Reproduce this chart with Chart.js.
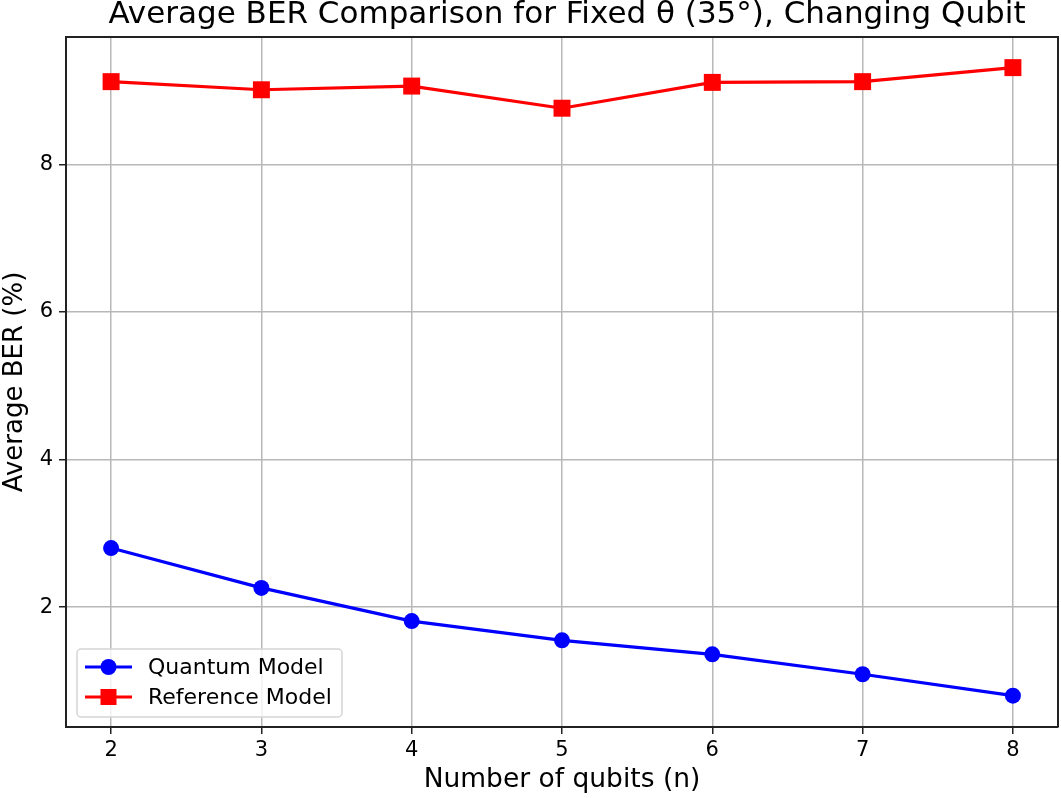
<!DOCTYPE html>
<html>
<head>
<meta charset="utf-8">
<script src="https://cdn.jsdelivr.net/npm/chart.js@4"></script>
<style>
  body { margin: 0; background: #fff; }
  #wrap { width: 1061px; height: 798px; }
</style>
</head>
<body>
<div id="wrap"><canvas id="berChart"></canvas></div>
<script>
// data
const qubits = [2, 3, 4, 5, 6, 7, 8];
const quantumBer = [2.80, 2.26, 1.81, 1.55, 1.36, 1.09, 0.80];
const referenceBer = [9.12, 9.01, 9.06, 8.76, 9.11, 9.12, 9.31];
const xTicks = [2, 3, 4, 5, 6, 7, 8];
const yTicks = [2, 4, 6, 8];

const FONT = "'DejaVu Sans', sans-serif";

function toPoints(xs, ys) {
    return xs.map((x, i) => ({ x: x, y: ys[i] }));
}

// title, top/right frame and the legend box inside the plot
const framePlugin = {
    id: "frame",
    afterDraw(chart) {
        const ctx = chart.ctx;
        const a = chart.chartArea;
        ctx.save();
        ctx.strokeStyle = "#222";
        ctx.lineWidth = 2;
        ctx.beginPath();
        ctx.moveTo(a.left, a.top);
        ctx.lineTo(a.right, a.top);
        ctx.lineTo(a.right, a.bottom);
        ctx.stroke();

        ctx.fillStyle = "#000";
        ctx.font = "31px " + FONT;
        ctx.textAlign = "center";
        ctx.textBaseline = "middle";
        ctx.fillText("Average BER Comparison for Fixed θ (35°), Changing Qubit", 567, 15);

        // legend
        const bx = 77, by = 649, bw = 265, bh = 68;
        ctx.fillStyle = "rgba(255,255,255,0.8)";
        ctx.strokeStyle = "#d5d5d5";
        ctx.lineWidth = 1.5;
        ctx.beginPath();
        ctx.roundRect(bx, by, bw, bh, 4);
        ctx.fill();
        ctx.stroke();
        ctx.font = "22px " + FONT;
        ctx.textAlign = "left";
        chart.data.datasets.forEach((ds, i) => {
            const y = 667 + i * 30;
            ctx.strokeStyle = ds.borderColor;
            ctx.lineWidth = 3;
            ctx.beginPath();
            ctx.moveTo(85, y);
            ctx.lineTo(132, y);
            ctx.stroke();
            ctx.fillStyle = ds.backgroundColor;
            if (ds.pointStyle === "rect") {
                ctx.fillRect(100.5, y - 8, 16, 16);
            } else {
                ctx.beginPath();
                ctx.arc(108.5, y, 8, 0, Math.PI * 2);
                ctx.fill();
            }
            ctx.fillStyle = "#000";
            ctx.fillText(ds.label, 148, y + 1);
        });
        ctx.restore();
    }
};

const ctx = document.getElementById("berChart").getContext("2d");
const berChart = new Chart(ctx, {
    type: "line",
    data: {
        datasets: [
            {
                label: "Quantum Model",
                data: toPoints(qubits, quantumBer),
                borderColor: "#0000ff",
                backgroundColor: "#0000ff",
                borderWidth: 3.2,
                pointStyle: "circle",
                pointRadius: 8,
                pointHoverRadius: 8,
                pointBorderWidth: 0,
                tension: 0,
            },
            {
                label: "Reference Model",
                data: toPoints(qubits, referenceBer),
                borderColor: "#ff0000",
                backgroundColor: "#ff0000",
                borderWidth: 3.2,
                pointStyle: "rect",
                pointRadius: 12,
                pointHoverRadius: 12,
                pointBorderWidth: 0,
                tension: 0,
            },
        ],
    },
    options: {
        responsive: true,
        maintainAspectRatio: false,
        animation: false,
        layout: { autoPadding: false, padding: { top: 37, right: 3, left: 0, bottom: 0 } },
        plugins: {
            legend: { display: false },
            title: { display: false },
            tooltip: { enabled: false },
        },
        scales: {
            x: {
                type: "linear",
                min: 1.7,
                max: 8.3,
                afterBuildTicks: (scale) => { scale.ticks = xTicks.map(v => ({ value: v })); },
                afterFit: (scale) => { scale.height = 71; },
                ticks: { color: "#000", font: { family: FONT, size: 21 }, padding: 4 },
                grid: { color: "#b8b8b8", lineWidth: 1.5, tickColor: "#222", tickLength: 7 },
                border: { color: "#222", width: 2 },
                title: {
                    display: true,
                    text: "Number of qubits (n)",
                    color: "#000",
                    font: { family: FONT, size: 26.5 },
                    padding: { top: 0, bottom: 2 },
                },
            },
            y: {
                type: "linear",
                min: 0.375,
                max: 9.725,
                afterBuildTicks: (scale) => { scale.ticks = yTicks.map(v => ({ value: v })); },
                afterFit: (scale) => { scale.width = 66; },
                ticks: { color: "#000", font: { family: FONT, size: 21 }, padding: 6 },
                grid: { color: "#b8b8b8", lineWidth: 1.5, tickColor: "#222", tickLength: 7 },
                border: { color: "#222", width: 2 },
                title: {
                    display: true,
                    text: "Average BER (%)",
                    color: "#000",
                    font: { family: FONT, size: 26 },
                    padding: { top: 0, bottom: 0 },
                },
            },
        },
    },
    plugins: [framePlugin],
});
</script>
</body>
</html>
